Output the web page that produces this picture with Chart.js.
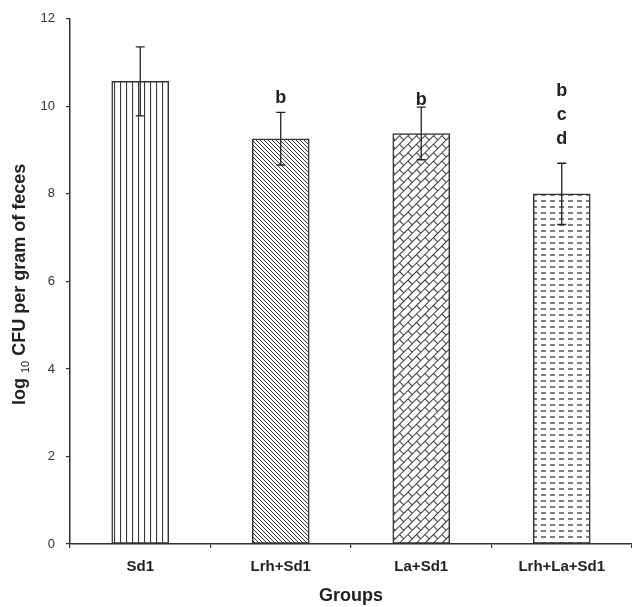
<!DOCTYPE html>
<html>
<head>
<meta charset="utf-8">
<script src="https://cdn.jsdelivr.net/npm/chart.js@4.4.0/dist/chart.umd.min.js"></script>
<style>
  html, body { margin: 0; padding: 0; background: #fff; overflow: hidden; }
  #chart { display: block; }
</style>
</head>
<body>
<canvas id="chart" width="632" height="607"></canvas>
<script>
// data
var groups = ['Sd1', 'Lrh+Sd1', 'La+Sd1', 'Lrh+La+Sd1'];
var meanLog = [10.57, 9.26, 9.38, 8.0];
var errLog = [0.79, 0.6, 0.6, 0.7];
var sigLetters = [[], ['b'], ['b'], ['b', 'c', 'd']];
var yTicks = [0, 2, 4, 6, 8, 10, 12];

var FONT = '"Liberation Sans", Arial, sans-serif';
var ctx = document.getElementById('chart').getContext('2d');

function makePattern(w, h, draw, rot) {
  var c = document.createElement('canvas');
  c.width = w; c.height = h;
  var g = c.getContext('2d');
  g.fillStyle = '#fff';
  g.fillRect(0, 0, w, h);
  g.strokeStyle = '#3a3a3a';
  g.lineWidth = 1;
  g.beginPath();
  draw(g, w, h);
  g.stroke();
  var p = ctx.createPattern(c, 'repeat');
  if (rot) p.setTransform(new DOMMatrix().rotate(rot));
  return p;
}

// vertical lines
var patVert = makePattern(6, 6, function (g) {
  g.lineWidth = 1.2;
  g.moveTo(0.5, 0); g.lineTo(0.5, 6);
});
// backslash hatching
var patDiag = makePattern(4, 4, function (g) {
  for (var k = -1; k <= 1; k++) {
    g.moveTo(-1, -1 + 4 * k); g.lineTo(5, 5 + 4 * k);
  }
});
// brick pattern turned 45 deg
var patBrick = makePattern(12, 12, function (g) {
  g.moveTo(0, 0.5); g.lineTo(12, 0.5);
  g.moveTo(0, 6.5); g.lineTo(12, 6.5);
  g.moveTo(0.5, 0); g.lineTo(0.5, 6.5);
  g.moveTo(6.5, 6.5); g.lineTo(6.5, 12);
}, -45);
// short dashes
var patDash = makePattern(9, 6, function (g) {
  g.lineWidth = 1.3;
  g.moveTo(1, 3); g.lineTo(6, 3);
});

var errorBars = {
  id: 'errorBars',
  afterDatasetsDraw: function (chart) {
    var c = chart.ctx, y = chart.scales.y;
    var meta = chart.getDatasetMeta(0);
    c.save();
    c.strokeStyle = '#222';
    c.lineWidth = 1.3;
    meta.data.forEach(function (bar, i) {
      var top = y.getPixelForValue(meanLog[i] + errLog[i]);
      var bot = y.getPixelForValue(meanLog[i] - errLog[i]);
      c.beginPath();
      c.moveTo(bar.x, top); c.lineTo(bar.x, bot);
      c.moveTo(bar.x - 4.5, top); c.lineTo(bar.x + 4.5, top);
      c.moveTo(bar.x - 4.5, bot); c.lineTo(bar.x + 4.5, bot);
      c.stroke();
    });
    c.restore();
  }
};

var letterMarks = {
  id: 'letterMarks',
  afterDatasetsDraw: function (chart, args, opts) {
    var c = chart.ctx, y = chart.scales.y;
    var meta = chart.getDatasetMeta(0);
    c.save();
    c.fillStyle = '#222';
    c.font = 'bold 18px ' + FONT;
    c.textAlign = 'center';
    c.textBaseline = 'alphabetic';
    meta.data.forEach(function (bar, i) {
      var l = sigLetters[i];
      if (!l.length) return;
      var base = y.getPixelForValue(meanLog[i] + errLog[i]) - opts.gaps[i];
      for (var j = l.length - 1; j >= 0; j--) {
        c.fillText(l[j], bar.x, base - (l.length - 1 - j) * 24);
      }
    });
    c.restore();
  }
};

var yTitle = {
  id: 'yTitle',
  afterDraw: function (chart) {
    var c = chart.ctx, area = chart.chartArea;
    var parts = [
      { t: 'log ', f: 'bold 18px ' + FONT, dy: 5 },
      { t: '10', f: '11px ' + FONT, dy: 9 },
      { t: ' CFU per gram of feces', f: 'bold 18px ' + FONT, dy: 5 }
    ];
    c.save();
    var total = 0;
    parts.forEach(function (p) { c.font = p.f; p.w = c.measureText(p.t).width; total += p.w; });
    c.translate(20, (area.top + area.bottom) / 2 + 3);
    c.rotate(-Math.PI / 2);
    c.fillStyle = '#222';
    c.textBaseline = 'alphabetic';
    var x = -total / 2;
    parts.forEach(function (p) {
      c.font = p.f;
      c.fillText(p.t, x, p.dy);
      x += p.w;
    });
    c.restore();
  }
};

new Chart(ctx, {
  type: 'bar',
  data: {
    labels: groups,
    datasets: [{
      data: meanLog,
      backgroundColor: [patVert, patDiag, patBrick, patDash],
      borderColor: '#333',
      borderWidth: 1.5,
      borderSkipped: false,
      barThickness: 57
    }]
  },
  options: {
    responsive: false,
    animation: false,
    layout: { padding: { top: 17, right: 0, bottom: 0, left: 0 } },
    plugins: {
      legend: { display: false },
      tooltip: { enabled: false },
      letterMarks: { gaps: [0, 9, 2, 19] }
    },
    scales: {
      x: {
        grid: { display: true, drawOnChartArea: false, drawTicks: true, tickLength: 4, color: '#333', lineWidth: 1.2, offset: true },
        border: { display: true, color: '#333', width: 1.5 },
        ticks: { color: '#222', font: { family: FONT, size: 15, weight: 'bold' }, padding: 10, maxRotation: 0 },
        title: { display: true, text: 'Groups', color: '#222', font: { family: FONT, size: 18, weight: 'bold' }, padding: 0 },
        afterFit: function (s) { s.height = 63; }
      },
      y: {
        min: 0,
        max: 12,
        afterBuildTicks: function (s) { s.ticks = yTicks.map(function (v) { return { value: v }; }); },
        grid: { display: true, drawOnChartArea: false, drawTicks: true, tickLength: 4, color: '#333', lineWidth: 1.2 },
        border: { display: true, color: '#333', width: 1.5 },
        ticks: { color: '#333', font: { family: FONT, size: 13 }, padding: 11 },
        afterFit: function (s) { s.width = 70; }
      }
    }
  },
  plugins: [errorBars, letterMarks, yTitle]
});
</script>
</body>
</html>
